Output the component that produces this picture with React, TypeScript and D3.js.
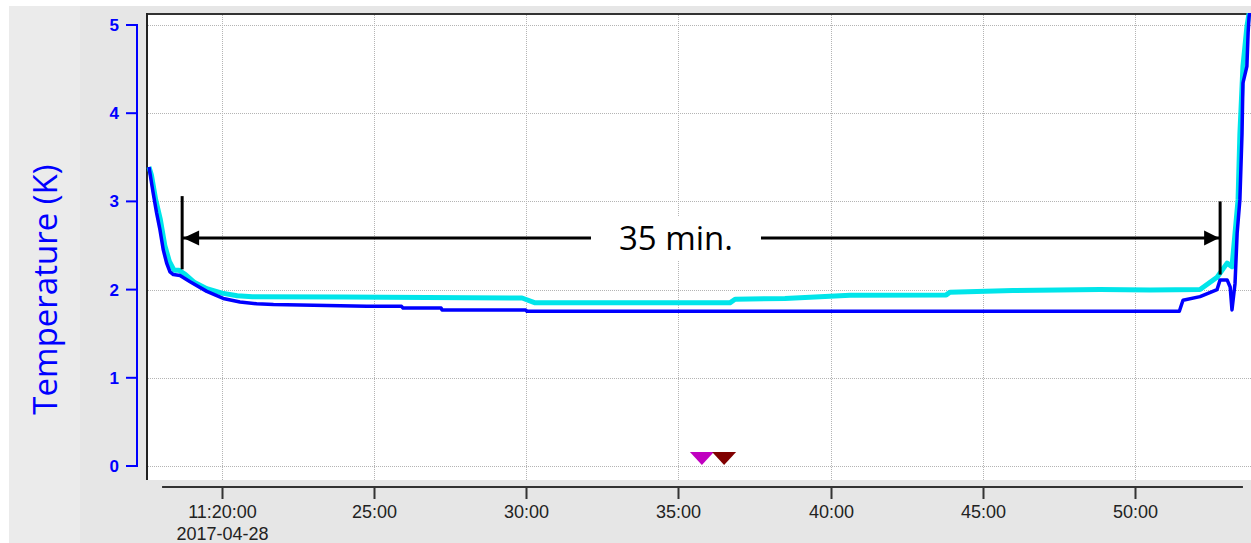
import React from "react";
import * as d3 from "d3";

// ---- data (minutes after 11:00 on 2017-04-28, temperature in K) ----
const blueSeries: [number, number][] = [
  [17.6, 3.39], [17.74, 3.09], [17.85, 2.87], [17.96, 2.68], [18.07, 2.45],
  [18.18, 2.3], [18.29, 2.2], [18.4, 2.17], [18.62, 2.16], [18.95, 2.09],
  [19.5, 1.98], [20.04, 1.9], [20.59, 1.86], [21.14, 1.84], [21.69, 1.83],
  [24.76, 1.81], [25.9, 1.81], [25.95, 1.79], [27.2, 1.79], [27.23, 1.77],
  [29.98, 1.77], [30.02, 1.755], [51.46, 1.755], [51.58, 1.88], [52.14, 1.92],
  [52.7, 2.0], [52.8, 2.11], [53.03, 2.11], [53.13, 2.03], [53.19, 1.77],
  [53.29, 2.07], [53.36, 2.64], [53.45, 3.02], [53.52, 3.77], [53.55, 4.34],
  [53.68, 4.53], [53.72, 4.91], [53.75, 5.09], [53.8, 5.2],
];
const cyanSeries: [number, number][] = [
  [17.6, 3.39], [17.68, 3.3], [17.82, 3.02], [17.97, 2.8], [18.12, 2.5],
  [18.27, 2.32], [18.42, 2.22], [18.58, 2.22], [18.8, 2.17], [19.1, 2.08],
  [19.5, 2.01], [20.0, 1.96], [20.5, 1.93], [21.0, 1.92], [24.0, 1.915],
  [29.86, 1.905], [30.29, 1.85], [36.69, 1.85], [36.86, 1.89], [38.5, 1.9],
  [40.64, 1.935], [43.8, 1.94], [43.92, 1.97], [45.99, 1.99], [48.85, 2.0],
  [50.5, 1.995], [52.14, 2.0], [52.7, 2.14], [53.03, 2.3], [53.19, 2.26],
  [53.29, 2.64], [53.39, 3.02], [53.45, 3.77], [53.55, 4.53], [53.68, 4.98],
  [53.75, 5.13], [53.8, 5.2],
];
const xTickMinutes = [20, 25, 30, 35, 40, 45, 50];
const xTickLabels = ["11:20:00", "25:00", "30:00", "35:00", "40:00", "45:00", "50:00"];
const dateLabel = "2017-04-28";
const yTicks = [0, 1, 2, 3, 4, 5];
const eventMinutes = [35.77, 36.5];
const eventColors = ["#c000c0", "#800000"];
// annotation: span from ~18.69 to ~52.8 min
const spanStart = 18.69;
const spanEnd = 52.8;
const spanLabel = "35 min.";
const yAxisTitle = "Temperature (K)";

const toDate = (m: number) => new Date(2017, 3, 28, 11, 0, 0, Math.round(m * 60000));

export default function App() {
  const W = 1251, H = 543;
  const plotL = 146, plotR = 1251, plotT = 13, plotB = 480;
  const x = d3.scaleTime().domain([toDate(17.502), toDate(53.815)]).range([plotL, plotR]);
  const y = d3.scaleLinear().domain([0, 5]).range([466, 25]);

  const line = d3
    .line<[number, number]>()
    .x((d) => x(toDate(d[0])))
    .y((d) => y(d[1]));

  const axisY0 = 487;
  const xAxisL = x(toDate(18.03));
  const xAxisR = x(toDate(53.55));

  const arrowY = y(2.585);
  const ax1 = x(toDate(spanStart));
  const ax2 = x(toDate(spanEnd));
  const textX = (x(toDate(35.0)) + x(toDate(35.1))) / 2 - 4;

  return (
    <svg
      width={W}
      height={H}
      style={{ position: "absolute", left: 0, top: 0 }}
      fontFamily="'Liberation Sans', Arial, sans-serif"
    >
      <defs>
        <clipPath id="plotclip">
          <rect x={plotL} y={plotT} width={plotR - plotL} height={plotB - plotT} />
        </clipPath>
      </defs>
      <rect x={0} y={0} width={W} height={H} fill="#ffffff" />
      <rect x={9} y={6} width={W - 9} height={H - 6} fill="#e6e6e6" />
      <rect x={9} y={6} width={71} height={H - 6} fill="#ebebeb" />
      {/* plot area */}
      <rect x={plotL} y={plotT} width={plotR - plotL} height={plotB - plotT} fill="#ffffff" />
      {/* grid */}
      {yTicks.map((t) => (
        <line
          key={"gy" + t}
          x1={plotL}
          x2={plotR}
          y1={Math.round(y(t)) + 0.5}
          y2={Math.round(y(t)) + 0.5}
          stroke="#b4b4b4"
          strokeDasharray="1,1"
        />
      ))}
      {xTickMinutes.map((m) => (
        <line
          key={"gx" + m}
          x1={Math.round(x(toDate(m))) + 0.5}
          x2={Math.round(x(toDate(m))) + 0.5}
          y1={plotT}
          y2={plotB}
          stroke="#b4b4b4"
          strokeDasharray="1,1"
        />
      ))}
      {/* frame */}
      <line x1={plotL} x2={plotR} y1={plotT + 1} y2={plotT + 1} stroke="#333" strokeWidth={2} />
      <line x1={plotL + 1} x2={plotL + 1} y1={plotT} y2={plotB} stroke="#222" strokeWidth={2} />

      {/* series */}
      <g clipPath="url(#plotclip)">
        <path d={line(cyanSeries) || ""} fill="none" stroke="#00e5ea" strokeWidth={5} strokeLinejoin="round" />
        <path d={line(blueSeries) || ""} fill="none" stroke="#0000ff" strokeWidth={3.5} strokeLinejoin="round" />
      </g>

      {/* event markers */}
      {eventMinutes.map((m, i) => {
        const cx = x(toDate(m));
        const tip = y(0) - 1;
        return (
          <path
            key={"ev" + i}
            d={`M${cx - 12},${tip - 13}L${cx + 12},${tip - 13}L${cx},${tip}Z`}
            fill={eventColors[i]}
          />
        );
      })}

      {/* annotation */}
      <line x1={ax1} x2={ax2} y1={arrowY} y2={arrowY} stroke="#000" strokeWidth={3} />
      <path d={`M${ax1 + 1},${arrowY}L${ax1 + 17},${arrowY - 7.5}L${ax1 + 17},${arrowY + 7.5}Z`} fill="#000" />
      <path d={`M${ax2 - 1},${arrowY}L${ax2 - 16},${arrowY - 7.5}L${ax2 - 16},${arrowY + 7.5}Z`} fill="#000" />
      <line x1={ax1} x2={ax1} y1={y(3.06)} y2={y(2.23)} stroke="#000" strokeWidth={3} />
      <line x1={ax2} x2={ax2} y1={y(3.0)} y2={y(2.17)} stroke="#000" strokeWidth={3} />
      <rect x={textX - 85} y={arrowY - 22} width={170} height={44} fill="#ffffff" />
      <text
        x={textX}
        y={arrowY + 12}
        textAnchor="middle"
        fontFamily="'Open Sans', sans-serif"
        fontSize={33}
        fill="#000"
      >
        {spanLabel}
      </text>

      {/* y axis */}
      <line x1={137} x2={137} y1={y(5) - 1} y2={y(0) + 1} stroke="#0000ff" strokeWidth={2} />
      {yTicks.map((t) => (
        <g key={"yt" + t}>
          <line x1={126} x2={137} y1={y(t)} y2={y(t)} stroke="#0000ff" strokeWidth={2} />
          <text
            x={119}
            y={y(t) + 6}
            textAnchor="end"
            fontSize={17}
            fontWeight="bold"
            fill="#0000ff"
          >
            {t}
          </text>
        </g>
      ))}
      <text
        transform={`translate(57,${y(2.0) + 0}) rotate(-90)`}
        textAnchor="middle"
        fontFamily="'Open Sans', sans-serif"
        fontSize={33}
        fill="#0000ff"
      >
        {yAxisTitle}
      </text>

      {/* x axis */}
      <line x1={xAxisL} x2={xAxisR} y1={axisY0} y2={axisY0} stroke="#333" strokeWidth={2} />
      {xTickMinutes.map((m, i) => {
        const tx = Math.round(x(toDate(m))) + 0.5;
        return (
          <g key={"xt" + m}>
            <line x1={tx} x2={tx} y1={axisY0} y2={axisY0 + 12} stroke="#333" strokeWidth={2} />
            <text x={tx} y={518} textAnchor="middle" fontSize={18} fill="#222">
              {xTickLabels[i]}
            </text>
            {i === 0 && (
              <text x={tx} y={540} textAnchor="middle" fontSize={18} fill="#222">
                {dateLabel}
              </text>
            )}
          </g>
        );
      })}
    </svg>
  );
}
